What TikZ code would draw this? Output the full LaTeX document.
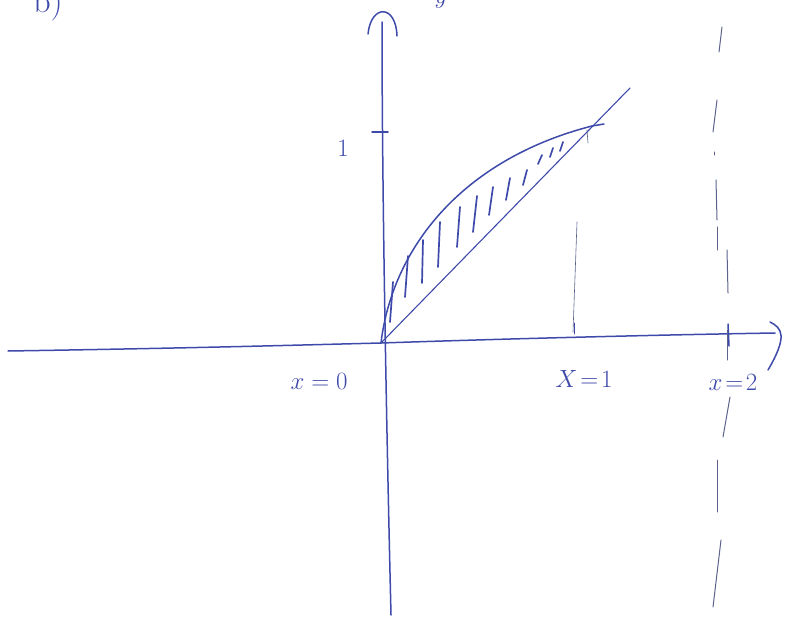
\documentclass[tikz,border=0pt]{standalone}
\usetikzlibrary{calc,arrows.meta,positioning}
\definecolor{ink}{RGB}{62,74,170}
\definecolor{pencil}{RGB}{92,98,140}

\begin{document}
\begin{tikzpicture}[x=1pt, y=-1pt, >=stealth, line join=round, line cap=round,
    pen/.style={draw=ink, line width=1.5pt},
    guide/.style={draw=pencil, line width=1pt},
    lbl/.style={text=ink, font=\fontsize{34}{38}\selectfont}]
  \useasboundingbox (0,0) rectangle (786,620);
  \clip (0,0) rectangle (786,620);
  % axes
  \coordinate (O) at (381,343);
  \draw[pen] (8,351) .. controls (200,348) and (300,345) .. (O)
    .. controls (500,339) and (650,335) .. (775,333);
  \draw[pen] (770,322) .. controls (782,328) and (788,336) .. (768,370);
  \draw[pen] (391,615) .. controls (387,450) and (382,200) .. (382,22);
  \draw[pen] (368,34) .. controls (371,4) and (396,4) .. (397,36);
  % ticks
  \draw[pen] (372,132) -- (388,132);
  \draw[pen, line width=0.8pt] (574,323) -- (574,334);
  \draw[pen] (728,324) -- (729,346);
  % y = x and the curve
  \coordinate (P) at (630,88);
  \coordinate (Q) at (592,126);
  \draw[pen, line width=1.1pt] (O) -- (P);
  \draw[pen] (O) .. controls (392,250) and (460,160) .. (Q) -- (604,124);
  % hatching
  \foreach \a/\b/\c/\d in {393/282/390/322, 408/256/405/297, 423/240/422/283,
      440/222/438/267, 460/207/457/247, 477/196/473/232, 493/187/489/215,
      510/178/506/200, 527/170/523/185, 542/155/538/164, 553/148/550/157,
      563/142/560/151}
    \draw[pen, line width=1.7pt] (\a,\b) -- (\c,\d);
  % x = 1 guide
  \draw[guide, line width=0.6pt] (587,130) -- (588,143);
  \draw[guide, line width=0.6pt] (577,222) -- (573,332);
  % x = 2 guide
  \foreach \a/\b/\c/\d in {722/27/719/52, 717/100/713/132, 714/152/714/155,
      716/180/717/220, 717/227/717/250, 727/250/728/293, 727/330/727/360,
      730/397/723/437, 717/460/717/512, 721/540/713/607}
    \draw[guide] (\a,\b) -- (\c,\d);
  % labels
  \node[lbl] (one) at (343,148) {$1$};
  \node[lbl] (xzero) at (319,381) {$x=0$};
  \node[lbl] (xone) at (584,379) {$X\!=\!1$};
  \node[lbl] (xtwo) at (733,382) {$x\!=\!2$};
  \node[lbl, anchor=base] (part) at (48,13) {b)};
  \node[lbl, anchor=base] (ylab) at (441,4) {$y$};
\end{tikzpicture}
\end{document}
